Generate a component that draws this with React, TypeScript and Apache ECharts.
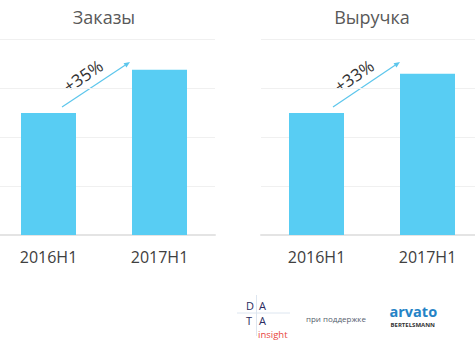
import React, { useEffect, useRef } from "react";
import * as echarts from "echarts";

const categories = ["2016H1", "2017H1"];
const ordersValues = [2.49, 3.37];
const revenueValues = [2.49, 3.29];
const panelTitles = ["Заказы", "Выручка"];
const growthLabels = ["+35%", "+33%"];

const BAR = "#58cdf3";
const ARROW = "#5cc6ec";
const FONT = "'Open Sans', sans-serif";

function arrow(x1: number, y1: number, x2: number, y2: number) {
  const dx = x2 - x1, dy = y2 - y1;
  const len = Math.hypot(dx, dy);
  const ux = dx / len, uy = dy / len;
  const hl = 6, hw = 2.6;
  const bx = x2 - ux * hl, by = y2 - uy * hl;
  return [
    { type: "line", shape: { x1, y1, x2: bx, y2: by }, style: { stroke: ARROW, lineWidth: 1.2 } },
    {
      type: "polygon",
      shape: { points: [[x2, y2], [bx - uy * hw, by + ux * hw], [bx + uy * hw, by - ux * hw]] },
      style: { fill: ARROW },
    },
  ];
}

export default function App() {
  const ref = useRef<HTMLDivElement>(null);
  useEffect(() => {
    const chart = echarts.init(ref.current!, undefined, { renderer: "svg" });
    const grids = [
      { left: -7, top: 39, width: 222, height: 196, outerBoundsMode: "none", containLabel: false },
      { left: 261, top: 39, width: 222, height: 196, outerBoundsMode: "none", containLabel: false },
    ];
    const xAxes = grids.map((_, i) => ({
      type: "category",
      gridIndex: i,
      data: categories,
      axisTick: { show: false },
      axisLine: { lineStyle: { color: "#e4e4e4", width: 2 } },
      axisLabel: { fontSize: 16, color: "#404040", fontFamily: FONT, margin: 14 },
    }));
    const yAxes = grids.map((_, i) => ({
      type: "value",
      gridIndex: i,
      min: 0,
      max: 4,
      interval: 1,
      axisLabel: { show: false },
      axisLine: { show: false },
      axisTick: { show: false },
      splitLine: { lineStyle: { color: "#f0f0f0", width: 1 } },
    }));
    const series = [ordersValues, revenueValues].map((vals, i) => ({
      type: "bar",
      xAxisIndex: i,
      yAxisIndex: i,
      data: vals,
      barWidth: 55,
      itemStyle: { color: BAR },
    }));
    const titleText = (text: string, x: number) => ({
      type: "text",
      x,
      y: 17,
      style: { text, fontSize: 18, fontFamily: FONT, fill: "#595959", textAlign: "center", textVerticalAlign: "middle" },
    });
    const growth = (text: string, x: number, y: number) => ({
      type: "text",
      x,
      y,
      rotation: 0.6,
      style: { text, fontSize: 17, fontFamily: FONT, fill: "#333", textAlign: "center", textVerticalAlign: "middle" },
    });
    const letter = (text: string, x: number, y: number) => ({
      type: "text",
      x,
      y,
      style: { text, fontSize: 11, fontFamily: FONT, fill: "#2b2b5e", textAlign: "left", textVerticalAlign: "middle" },
    });
    const graphic: any[] = [
      titleText(panelTitles[0], 104),
      titleText(panelTitles[1], 372),
      growth(growthLabels[0], 83, 76),
      growth(growthLabels[1], 354, 76),
      ...arrow(62, 107, 130, 62),
      ...arrow(333, 107, 400, 62),
      // DATA insight logo
      { type: "line", shape: { x1: 237, y1: 313, x2: 290, y2: 313 }, style: { stroke: "#dde6f0", lineWidth: 1 } },
      { type: "line", shape: { x1: 256.5, y1: 295, x2: 256.5, y2: 336 }, style: { stroke: "#dde6f0", lineWidth: 1 } },
      letter("D", 246, 305),
      letter("A", 259, 305),
      letter("T", 246, 320),
      letter("A", 259, 320),
      { type: "text", x: 258, y: 334, style: { text: "insight", fontSize: 9.5, fontFamily: FONT, fill: "#e8453c", textAlign: "left", textVerticalAlign: "middle" } },
      { type: "text", x: 306, y: 318, style: { text: "при поддержке", fontSize: 8, fontFamily: FONT, fill: "#55606e", textAlign: "left", textVerticalAlign: "middle" } },
      { type: "text", x: 389.5, y: 311, style: { text: "arvato", fontSize: 14.5, fontWeight: "bold", fontFamily: FONT, fill: "#2583c6", textAlign: "left", textVerticalAlign: "middle" } },
      { type: "text", x: 390.5, y: 324.6, style: { text: "BERTELSMANN", fontSize: 6, fontWeight: "bold", fontFamily: FONT, fill: "#333", textAlign: "left", textVerticalAlign: "middle" } },
    ];
    chart.setOption({
      animation: false,
      grid: grids,
      xAxis: xAxes,
      yAxis: yAxes,
      series,
      graphic,
    } as any);
    return () => chart.dispose();
  }, []);
  return <div ref={ref} style={{ width: 475, height: 352, position: "absolute", left: 0, top: 0, background: "#fff" }} />;
}
